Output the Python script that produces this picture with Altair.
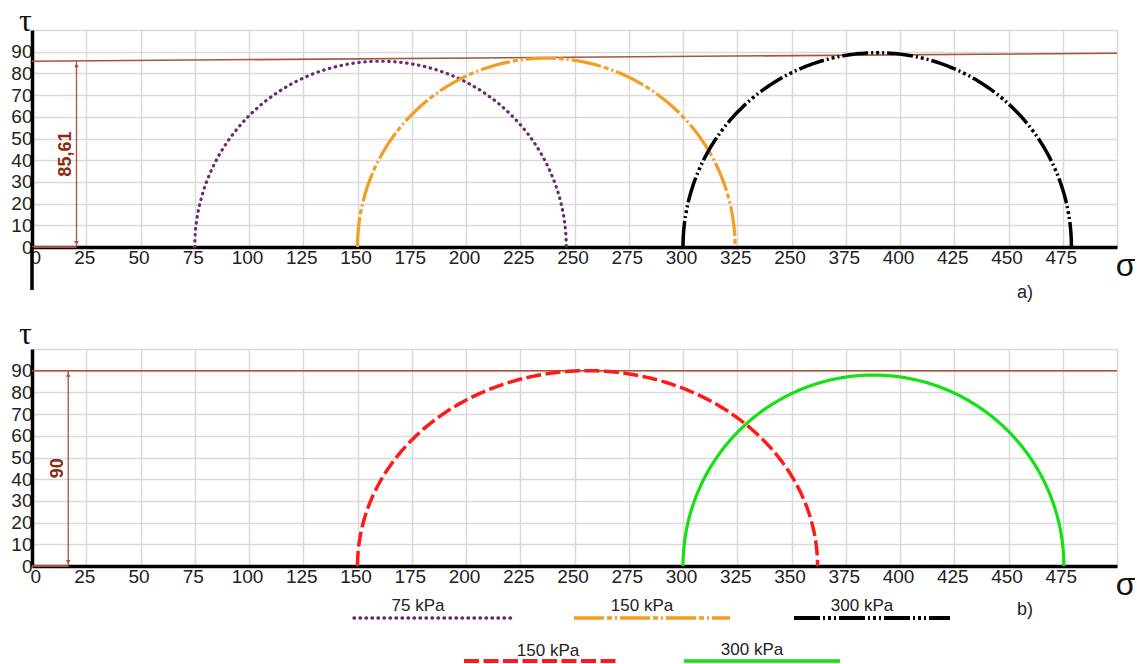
import altair as alt
import numpy as np
import pandas as pd

# ---------------- data ----------------
X_TICKS = list(range(0, 501, 25))
Y_TICKS = list(range(0, 101, 10))

# panel a)
A_LABELS = ["75 kPa", "150 kPa", "300 kPa"]
A_SIGMA3 = [75, 150, 300]
A_SIGMA1 = [246.2, 324, 479]
A_PEAK = [85.61, 87, 89.5]
A_ENV_SIGMA = [0, 500]
A_ENV_TAU = [85.61, 89.3]
A_DIM_VALUE = 85.61
A_DIM_TEXT = "85,61"
A_TICK_OVERRIDE = {350: "250"}  # as printed in the original

# panel b)
B_LABELS = ["150 kPa", "300 kPa"]
B_SIGMA3 = [150, 300]
B_SIGMA1 = [362, 475.5]
B_PEAK = [90, 88]
B_ENV_SIGMA = [0, 500]
B_ENV_TAU = [90, 90]
B_DIM_VALUE = 90
B_DIM_TEXT = "90"

# ---------------- styles ----------------
A_STYLE = [
    dict(color="#6b2a6f", dash=[0.5, 5.5], cap="round", width=3.2),
    dict(color="#f59c22", dash=[30, 3, 5, 3, 2, 3], cap="butt", width=3.2),
    dict(color="#000000", dash=[26, 3, 2, 3, 3, 3, 2, 3], cap="butt", width=3.5),
]
B_STYLE = [
    dict(color="#ff1a1a", dash=[15, 4.5], cap="butt", width=3.5),
    dict(color="#14e014", dash=[1, 0], cap="butt", width=3.2),
]
BROWN = "#a9533a"
DIM_COLOR = "#8b2a10"
FONT = "Liberation Sans"
LABEL_SIZE = 19

W, H = 1085, 217


def arc_frame(s3, s1, peak):
    t = np.linspace(0, np.pi, 241)
    c = (s3 + s1) / 2
    r = (s1 - s3) / 2
    return pd.DataFrame({"sigma": c - r * np.cos(t), "tau": peak * np.sin(t), "k": np.arange(t.size)})


def x_axis(override):
    expr = "datum.value == 500 ? '' : datum.label"
    for v, s in override.items():
        expr = f"datum.value == {v} ? '{s}' : (" + expr + ")"
    return alt.Axis(values=X_TICKS, grid=True, gridColor="#d9d9d9", gridWidth=1.5,
                    domainColor="black", domainWidth=3.5, ticks=False,
                    labelFontSize=LABEL_SIZE, labelColor="#222222", labelFont=FONT,
                    labelPadding=1, labelFlush=True, labelOffset=-2, labelExpr=expr,
                    labelOverlap=False,
                    title="σ", titleFont=FONT, titleFontSize=32, titleFontWeight="normal",
                    titleColor="#111111", titleX=1093, titleY=18, titleBaseline="middle",
                    titleAlign="center")


def y_axis(title_y):
    return alt.Axis(values=Y_TICKS, grid=True, gridColor="#d9d9d9", gridWidth=1.5,
                    domainColor="black", domainWidth=3.5, ticks=False,
                    labelFontSize=LABEL_SIZE, labelColor="#222222", labelFont=FONT, labelPadding=0,
                    labelExpr="datum.value == 100 ? '' : datum.label", labelOverlap=False,
                    labelBound=False, labelSeparation=0,
                    title="τ", titleFont="Liberation Serif", titleFontSize=32,
                    titleFontWeight="normal", titleColor="#111111", titleAngle=0,
                    titleX=-7, titleY=title_y, titleBaseline="middle", titleAlign="center")


XS = alt.Scale(domain=[0, 500], nice=False, zero=False)
YS = alt.Scale(domain=[0, 100], nice=False, zero=False)


def panel(s3s, s1s, peaks, styles, env_s, env_t, dim_v, dim_text, dim_x, override, tau_y, extra):
    xa = x_axis(override)
    ya = y_axis(tau_y)

    def X(field):
        return alt.X(field, scale=XS, axis=xa)

    def Y(field):
        return alt.Y(field, scale=YS, axis=ya)

    layers = []
    env = pd.DataFrame({"sigma": env_s, "tau": env_t})
    layers.append(alt.Chart(env).mark_line(color=BROWN, strokeWidth=1.6).encode(
        x=X("sigma:Q"), y=Y("tau:Q")))
    for s3, s1, pk, st in zip(s3s, s1s, peaks, styles):
        layers.append(alt.Chart(arc_frame(s3, s1, pk)).mark_line(
            color=st["color"], strokeWidth=st["width"], strokeDash=st["dash"],
            strokeCap=st["cap"]).encode(x=X("sigma:Q"), y=Y("tau:Q"), order="k:Q"))
    dim = pd.DataFrame({"sigma": [dim_x], "lo": [0], "hi": [dim_v], "mid": [dim_v / 2],
                        "x0": [0], "text": [dim_text]})
    layers.append(alt.Chart(dim).mark_rule(color=BROWN, strokeWidth=1.3).encode(
        x=X("sigma:Q"), y=Y("lo:Q"), y2="hi:Q"))
    layers.append(alt.Chart(dim).mark_rule(color=BROWN, strokeWidth=2).encode(
        x=X("x0:Q"), x2="sigma:Q", y=Y("lo:Q")))
    layers.append(alt.Chart(dim).mark_point(shape="triangle-up", filled=True, size=22,
                                            color=BROWN, opacity=1, yOffset=4).encode(
        x=X("sigma:Q"), y=Y("hi:Q")))
    layers.append(alt.Chart(dim).mark_point(shape="triangle-down", filled=True, size=22,
                                            color=BROWN, opacity=1, yOffset=-4).encode(
        x=X("sigma:Q"), y=Y("lo:Q")))
    layers.append(alt.Chart(dim).mark_text(angle=270, fontWeight="bold", fontSize=18,
                                           font=FONT, color=DIM_COLOR, xOffset=-10,
                                           baseline="middle", align="center").encode(
        x=X("sigma:Q"), y=Y("mid:Q"), text="text:N"))
    layers.extend(extra)
    return alt.layer(*layers).properties(width=W, height=H)


one = pd.DataFrame({"a": [0]})

a_extra = [
    alt.Chart(one).mark_rule(color="black", strokeWidth=3.5).encode(
        x=alt.value(0), y=alt.value(H), y2=alt.value(H + 43)),
    alt.Chart(one).mark_text(text="a)", fontSize=18, font=FONT, color="#222222").encode(
        x=alt.value(993), y=alt.value(263)),
]

LEGEND = [
    ("75 kPa", A_STYLE[0], 322, 480, 269, 386, 257),
    ("150 kPa", A_STYLE[1], 542, 698, 269, 610, 257),
    ("300 kPa", A_STYLE[2], 762, 918, 269, 830, 257),
    ("150 kPa", B_STYLE[0], 432, 588, 312, 516, 302),
    ("300 kPa", B_STYLE[1], 652, 808, 312, 720, 301),
]
b_extra = [
    alt.Chart(one).mark_text(text="b)", fontSize=18, font=FONT, color="#222222").encode(
        x=alt.value(993), y=alt.value(261)),
]
for lab, st, x1, x2, yl, xt, yt in LEGEND:
    b_extra.append(alt.Chart(one).mark_rule(color=st["color"], strokeWidth=st["width"] + 0.3,
                                            strokeDash=st["dash"], strokeCap=st["cap"]).encode(
        x=alt.value(x1), x2=alt.value(x2), y=alt.value(yl)))
    b_extra.append(alt.Chart(one).mark_text(text=lab, fontSize=17, font=FONT, color="#222222").encode(
        x=alt.value(xt), y=alt.value(yt)))

pa = panel(A_SIGMA3, A_SIGMA1, A_PEAK, A_STYLE, A_ENV_SIGMA, A_ENV_TAU, A_DIM_VALUE,
           A_DIM_TEXT, 20.5, A_TICK_OVERRIDE, -10, a_extra)
pb = panel(B_SIGMA3, B_SIGMA1, B_PEAK, B_STYLE, B_ENV_SIGMA, B_ENV_TAU, B_DIM_VALUE,
           B_DIM_TEXT, 16.7, {}, -16, b_extra)

chart = alt.vconcat(pa, pb, spacing=102, bounds="flush").resolve_scale(
    x="independent", y="independent").resolve_axis(x="independent", y="independent").properties(
    padding={"left": 10, "top": 4, "right": 0, "bottom": 0},
    background="white",
).configure_view(stroke=None).configure_axis(labelOverlap=False).configure_axisY(labelOverlap=False)

chart.save("out.html", embed_options={"renderer": "svg", "actions": False})
